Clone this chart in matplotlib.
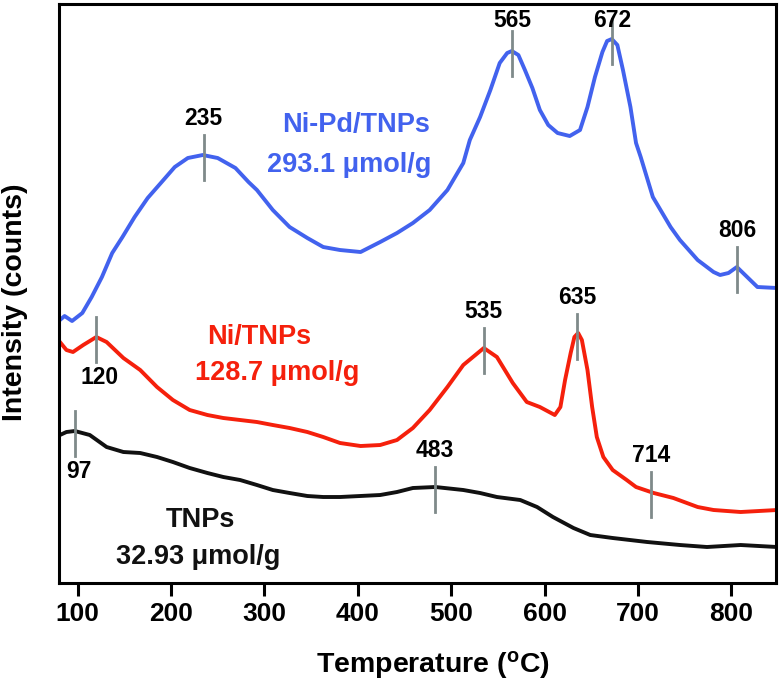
import numpy as np
import matplotlib
matplotlib.use('Agg')
import matplotlib.pyplot as plt

plt.rcParams['font.family'] = ['Liberation Sans', 'DejaVu Sans']
plt.rcParams['font.weight'] = 'bold'
plt.rcParams['mathtext.fontset'] = 'custom'
plt.rcParams['mathtext.rm'] = 'Liberation Sans:bold'

# temperature (C) and intensity (arbitrary units)
t_nipd = [81, 86, 94, 105, 115, 126, 137, 148, 161, 175, 190, 204, 218, 234, 250, 269, 283,
          292, 309, 327, 346, 363, 381, 403, 424, 442, 459, 477, 496, 513, 520, 531, 542,
          552, 560, 565, 572, 579, 587, 595, 604, 614, 627, 638, 646, 654, 662, 667, 672,
          678, 684, 692, 698, 703, 716, 735, 745, 764, 781, 788, 797, 806, 817, 828, 849]
i_nipd = [263, 267, 262, 270, 286, 306, 330, 346, 366, 385, 401, 416, 425, 428, 425, 415, 401,
          393, 373, 356, 345, 336, 333, 331, 341, 350, 360, 373, 393, 420, 443, 466, 493,
          520, 530, 532, 528, 513, 495, 473, 458, 450, 447, 453, 476, 506, 531, 542, 544,
          538, 513, 476, 440, 426, 386, 356, 343, 323, 311, 308, 310, 316, 306, 296, 295]

t_ni = [81, 88, 95, 106, 120, 131, 149, 167, 185, 202, 220, 239, 256, 274, 292, 309, 327,
        346, 363, 381, 403, 424, 442, 459, 477, 496, 513, 535, 549, 566, 581, 595, 603,
        611, 617, 622, 628, 632, 636, 640, 646, 651, 656, 663, 673, 688, 698, 717, 738,
        764, 781, 810, 849]
i_ni = [241, 233, 231, 238, 246, 241, 225, 213, 196, 183, 173, 168, 165, 163, 161, 158, 155,
        151, 146, 140, 137, 138, 143, 155, 173, 196, 218, 235, 226, 200, 181, 176, 172,
        168, 176, 203, 230, 246, 250, 243, 213, 176, 146, 126, 113, 103, 96, 90, 85,
        76, 73, 71, 73]

t_tnp = [81, 88, 97, 113, 131, 149, 167, 185, 202, 220, 239, 256, 274, 292, 309, 327, 346,
         363, 381, 424, 442, 459, 483, 513, 531, 549, 574, 592, 609, 631, 649, 673, 710,
         745, 774, 810, 849]
i_tnp = [148, 151, 152, 148, 136, 131, 130, 126, 121, 115, 110, 106, 103, 98, 93, 90, 87,
         86, 86, 88, 91, 95, 96, 93, 90, 86, 83, 76, 66, 55, 48, 45, 41, 38, 36, 38, 36]

peaks_nipd = [235, 565, 672, 806]
peaks_ni = [120, 535, 635, 714]
peaks_tnp = [97, 483]

fig = plt.figure(figsize=(7.8, 6.81), dpi=100)
ax = fig.add_axes([0.0756, 0.1439, 0.9194, 0.8502])

blue = '#4262ee'
red = '#f5200c'
grey = '#7f8a8a'

ax.plot(t_nipd, i_nipd, color=blue, lw=2.8, solid_joinstyle='round')
ax.plot(t_ni, i_ni, color=red, lw=2.8, solid_joinstyle='round')
ax.plot(t_tnp, i_tnp, color='#111111', lw=2.8, solid_joinstyle='round')

# peak markers
def mark(ts, tt, ii, below=()):
    for t in ts:
        y = np.interp(t, tt, ii)
        ax.plot([t, t], [y - 25, y + 20], color=grey, lw=2.0, zorder=3)
        if t in below:
            ax.text(t + 4, y - 40, str(t), ha='center', va='center', fontsize=16.5)
        else:
            ax.text(t, min(y + 37, 563), str(t), ha='center', va='center', fontsize=16.5)

mark(peaks_nipd, t_nipd, i_nipd)
mark(peaks_ni, t_ni, i_ni, below=(120,))
mark(peaks_tnp, t_tnp, i_tnp, below=(97,))

ax.text(398, 458, 'Ni-Pd/TNPs', color=blue, fontsize=19.5, ha='center', va='center')
ax.text(391, 418, '293.1 \u03bcmol/g', color=blue, fontsize=19.5, ha='center', va='center')
ax.text(294, 246, 'Ni/TNPs', color=red, fontsize=19.5, ha='center', va='center')
ax.text(314, 210, '128.7 \u03bcmol/g', color=red, fontsize=19.5, ha='center', va='center')
ax.text(232, 63, 'TNPs', color='#111111', fontsize=19.5, ha='center', va='center')
ax.text(229, 26, '32.93 \u03bcmol/g', color='#111111', fontsize=19.5, ha='center', va='center')

ax.set_xlim(80, 848)
ax.set_ylim(0, 579)
ax.set_xticks([100, 200, 300, 400, 500, 600, 700, 800])
ax.set_yticks([])
ax.tick_params(axis='x', direction='out', length=9, width=2.2, labelsize=19, pad=5)
for lab in ax.get_xticklabels():
    lab.set_fontweight('bold')
for s in ax.spines.values():
    s.set_linewidth(2.2)

fig.text(0.555, 0.0235, r'Temperature ($\mathregular{^o}$C)', ha='center', va='center',
         fontsize=20.5)
fig.text(0.019, 0.5565, 'Intensity (counts)', rotation=90, ha='center', va='center',
         fontsize=20.5)

fig.savefig('out.png', dpi=100)
